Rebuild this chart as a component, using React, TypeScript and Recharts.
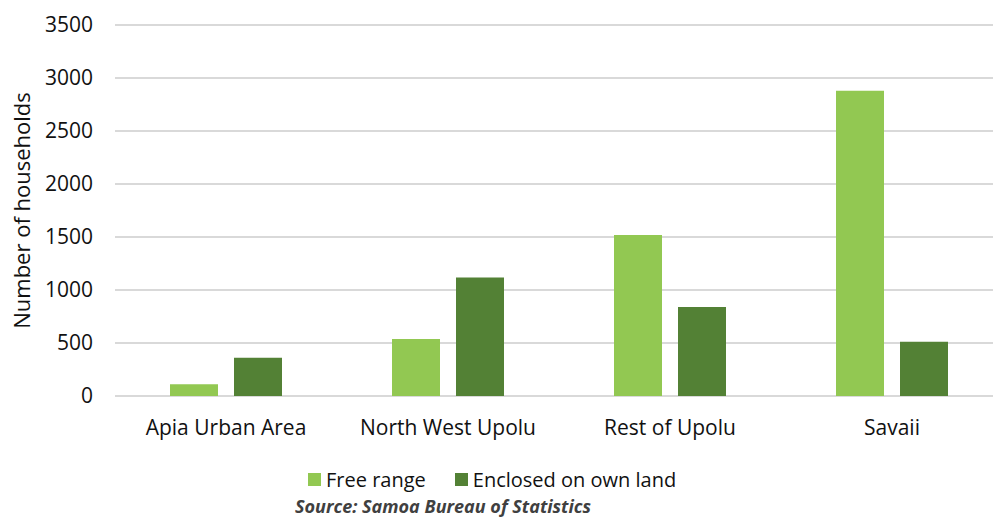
import { Bar, BarChart, CartesianGrid, Legend, XAxis, YAxis } from "recharts"

const regions = ["Apia Urban Area", "North West Upolu", "Rest of Upolu", "Savaii"]
const freeRange = [110, 538, 1518, 2880]
const enclosed = [362, 1118, 840, 512]
const yTicks = [0, 500, 1000, 1500, 2000, 2500, 3000, 3500]

const series = [
  { key: "freeRange", name: "Free range", color: "#92C852" },
  { key: "enclosed", name: "Enclosed on own land", color: "#538135" },
]

const data = regions.map((region, i) => ({
  region,
  freeRange: freeRange[i],
  enclosed: enclosed[i],
}))

const font = "'Open Sans', sans-serif"

function LegendContent() {
  return (
    <div style={{ display: "flex", alignItems: "center", fontFamily: font, fontSize: 20, color: "#111" }}>
      {series.map((s, i) => (
        <div key={s.key} style={{ display: "flex", alignItems: "center", marginRight: i === 0 ? 29 : 0 }}>
          <span style={{ width: 13, height: 13, background: s.color, display: "inline-block", marginRight: 5 }} />
          <span>{s.name}</span>
        </div>
      ))}
    </div>
  )
}

export default function App() {
  return (
    <div style={{ position: "absolute", left: 0, top: 0, width: 993, height: 518, overflow: "hidden", background: "#fff" }}>
      <BarChart
        width={1010}
        height={518}
        data={data}
        margin={{ top: 25, right: 7, left: 0, bottom: 82 }}
        barSize={48}
        barGap={16}
      >
        <CartesianGrid vertical={false} stroke="#D9D9D9" strokeWidth={2} />
        <XAxis
          dataKey="region"
          height={40}
          axisLine={false}
          tickLine={false}
          tickSize={0}
          tickMargin={24}
          tick={{ fill: "#111", fontSize: 21, fontFamily: font }}
        />
        <YAxis
          width={115}
          domain={[0, 3500]}
          ticks={yTicks}
          axisLine={false}
          tickLine={false}
          tickSize={0}
          tickMargin={22}
          tick={{ fill: "#111", fontSize: 21, fontFamily: font }}
          label={{
            value: "Number of households",
            angle: -90,
            position: "insideLeft",
            offset: 22,
            style: { textAnchor: "middle", fill: "#111", fontSize: 22, fontFamily: font },
          }}
        />
        <Legend
          verticalAlign="middle"
          align="center"
          content={<LegendContent />}
          wrapperStyle={{ top: 466, left: 308, width: "auto" }}
        />
        {series.map((s) => (
          <Bar key={s.key} dataKey={s.key} name={s.name} fill={s.color} isAnimationActive={false} />
        ))}
      </BarChart>
      <div
        style={{
          position: "absolute",
          left: 295,
          top: 495,
          fontFamily: font,
          fontSize: 18,
          lineHeight: "22px",
          fontWeight: 700,
          fontStyle: "italic",
          color: "#404040",
          whiteSpace: "nowrap",
        }}
      >
        Source: Samoa Bureau of Statistics
      </div>
    </div>
  )
}
